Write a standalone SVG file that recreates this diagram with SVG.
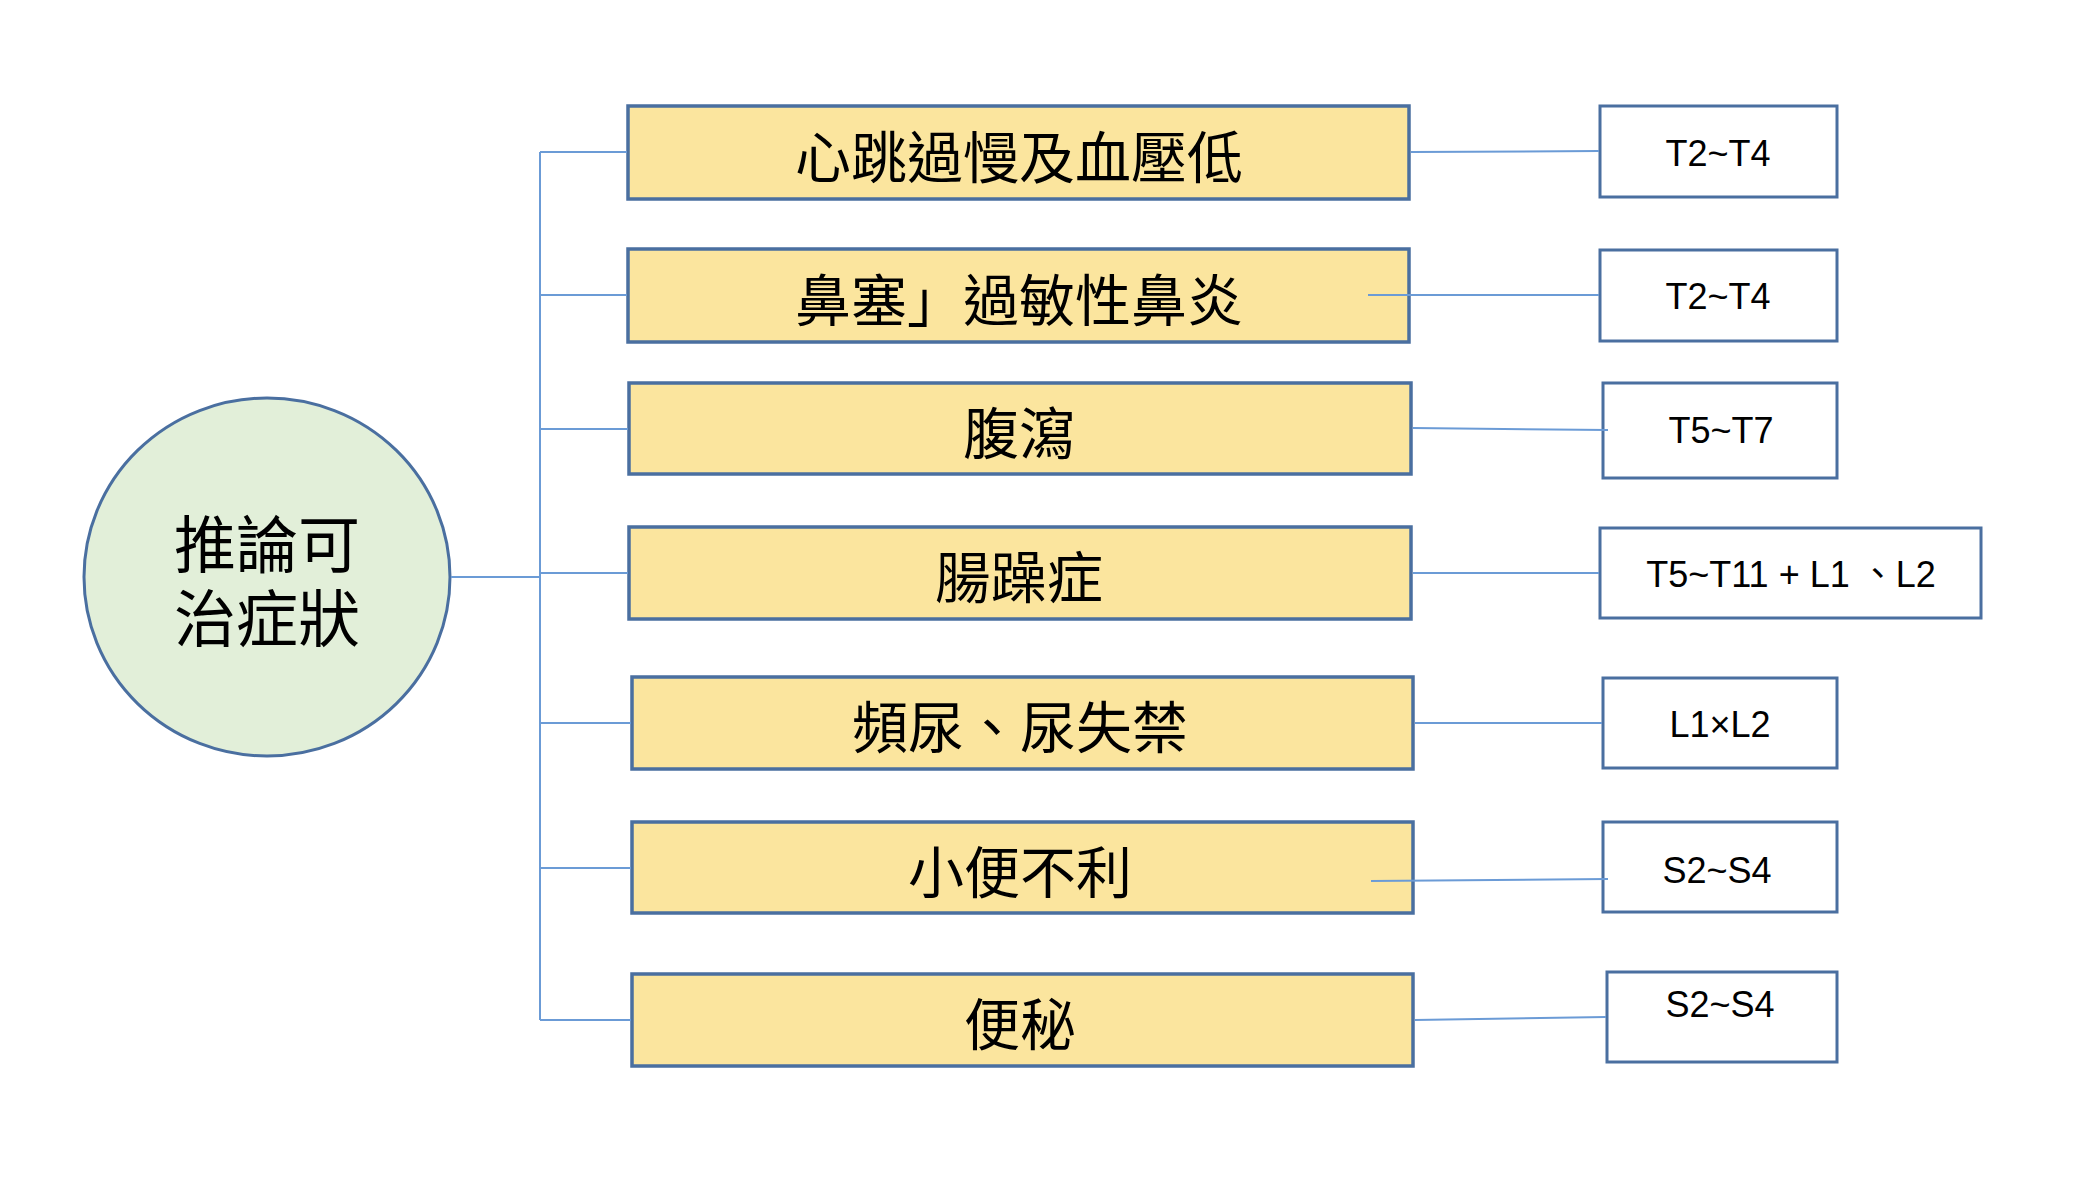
<svg xmlns="http://www.w3.org/2000/svg" width="2078" height="1204" viewBox="0 0 2078 1204">
<style>
.conn{stroke:#6B9BD6;stroke-width:2;fill:none}
.sym{fill:#FBE59E;stroke:#4A6FA0;stroke-width:3.5}
.seg{fill:#FFFFFF;stroke:#4A6FA0;stroke-width:3}
.cjk{font-family:"Noto Sans CJK TC","Noto Sans CJK SC",sans-serif;font-size:56px;fill:#000;text-anchor:middle;dominant-baseline:central}
.lat{font-family:"Liberation Sans","Noto Sans CJK TC",sans-serif;font-size:36px;fill:#000;text-anchor:middle}
</style>
<rect width="2078" height="1204" fill="#FFFFFF"/>
<g id="root">
<ellipse cx="267" cy="577" rx="183" ry="179" fill="#E2EFD9" stroke="#4A6FA0" stroke-width="3"/>
<text class="cjk" style="font-size:62px"><tspan x="267" y="541">推論可</tspan><tspan x="267" y="615">治症狀</tspan></text>
</g>
<g id="s1"><rect class="sym" x="628" y="106" width="781" height="93"/><text class="cjk" x="1019" y="153">心跳過慢及血壓低</text></g>
<g id="s2"><rect class="sym" x="628" y="249" width="781" height="93"/><text class="cjk" x="1019" y="296">鼻塞」過敏性鼻炎</text></g>
<g id="s3"><rect class="sym" x="629" y="383" width="782" height="91"/><text class="cjk" x="1019" y="429">腹瀉</text></g>
<g id="s4"><rect class="sym" x="629" y="527" width="782" height="92"/><text class="cjk" x="1019" y="573">腸躁症</text></g>
<g id="s5"><rect class="sym" x="632" y="677" width="781" height="92"/><text class="cjk" x="1020" y="723">頻尿、尿失禁</text></g>
<g id="s6"><rect class="sym" x="632" y="822" width="781" height="91"/><text class="cjk" x="1020" y="868">小便不利</text></g>
<g id="s7"><rect class="sym" x="632" y="974" width="781" height="92"/><text class="cjk" x="1020" y="1020">便秘</text></g>
<g id="r1"><rect class="seg" x="1600" y="106" width="237" height="91"/><text class="lat" x="1718" y="166">T2~T4</text></g>
<g id="r2"><rect class="seg" x="1600" y="250" width="237" height="91"/><text class="lat" x="1718" y="309">T2~T4</text></g>
<g id="r3"><rect class="seg" x="1603" y="383" width="234" height="95"/><text class="lat" x="1721" y="443">T5~T7</text></g>
<g id="r4"><rect class="seg" x="1600" y="528" width="381" height="90"/><text class="lat" x="1791" y="587">T5~T11 + L1 、L2</text></g>
<g id="r5"><rect class="seg" x="1603" y="678" width="234" height="90"/><text class="lat" x="1720" y="737">L1×L2</text></g>
<g id="r6"><rect class="seg" x="1603" y="822" width="234" height="90"/><text class="lat" x="1717" y="883">S2~S4</text></g>
<g id="r7"><rect class="seg" x="1607" y="972" width="230" height="90"/><text class="lat" x="1720" y="1017">S2~S4</text></g>
<g id="connectors">
<path class="conn" d="M451 577 H541"/>
<path class="conn" d="M540 152 V1020"/>
<path class="conn" d="M540 152 H627"/>
<path class="conn" d="M540 295 H627"/>
<path class="conn" d="M540 429 H628"/>
<path class="conn" d="M540 573 H628"/>
<path class="conn" d="M540 723 H631"/>
<path class="conn" d="M540 868 H631"/>
<path class="conn" d="M540 1020 H631"/>
<path class="conn" d="M1411 152 L1599 151"/>
<path class="conn" d="M1368 295 H1599"/>
<path class="conn" d="M1413 428 L1608 430"/>
<path class="conn" d="M1413 573 H1599"/>
<path class="conn" d="M1415 723 H1602"/>
<path class="conn" d="M1371 881 L1608 879"/>
<path class="conn" d="M1415 1020 L1606 1017"/>
</g>
</svg>
